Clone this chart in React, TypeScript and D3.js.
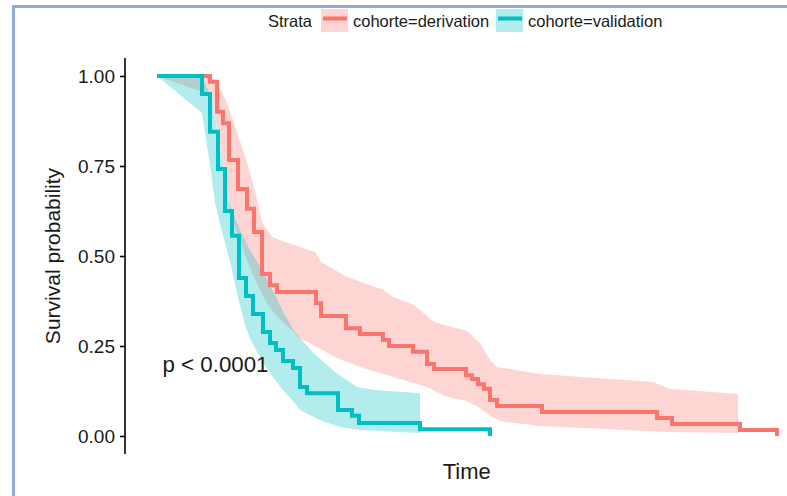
import React, { useEffect, useRef } from "react";
import * as d3 from "d3";

// ---- data ----
const strataLabels = ["cohorte=derivation", "cohorte=validation"];
const strataColors = ["#F8766D", "#00BFC4"];

// Kaplan-Meier steps, derivation cohort
const derivTime = [0, 8.28, 9.38, 10.31, 11.25, 12.66, 14.06, 15.16, 16.41, 17.66, 18.75, 24.84, 25.63, 29.53, 31.72, 35.31, 36.25, 40.0, 42.19, 43.28, 48.28, 49.22, 50.16, 51.09, 52.03, 53.13, 60.16, 78.13, 80.47, 91.09, 96.88];
const derivSurv = [1, 0.984, 0.901, 0.869, 0.767, 0.686, 0.631, 0.567, 0.45, 0.419, 0.4, 0.369, 0.333, 0.299, 0.283, 0.267, 0.25, 0.234, 0.2, 0.186, 0.169, 0.158, 0.144, 0.131, 0.1, 0.083, 0.067, 0.05, 0.033, 0.017, 0];

// Kaplan-Meier steps, validation cohort
const validTime = [0, 7.03, 8.28, 9.53, 10.63, 11.72, 12.81, 13.91, 15.0, 16.56, 17.66, 18.59, 19.69, 21.25, 22.34, 23.44, 28.28, 30.47, 31.56, 41.09, 52.03];
const validSurv = [1, 0.95, 0.845, 0.742, 0.625, 0.556, 0.439, 0.389, 0.339, 0.289, 0.258, 0.239, 0.208, 0.189, 0.136, 0.119, 0.072, 0.056, 0.036, 0.019, 0];

// confidence band, derivation
const derivUpperT = [0, 8.28, 10.16, 11.09, 12.5, 14.06, 15.47, 16.41, 17.97, 20.0, 24.69, 25.63, 29.69, 35.31, 36.88, 40.16, 43.28, 48.44, 50.47, 52.03, 53.13, 59.84, 77.5, 80.16, 90.78];
const derivUpperS = [1, 1, 0.956, 0.919, 0.844, 0.761, 0.669, 0.594, 0.553, 0.539, 0.511, 0.483, 0.442, 0.406, 0.386, 0.364, 0.317, 0.292, 0.258, 0.211, 0.192, 0.172, 0.15, 0.131, 0.117];
const derivLowerT = [0, 7.03, 8.59, 9.53, 10.47, 11.41, 12.34, 12.97, 14.53, 16.09, 17.34, 18.75, 21.09, 22.03, 25.0, 28.13, 31.72, 34.84, 37.97, 42.19, 45.31, 48.44, 50.47, 52.03, 53.59, 59.84, 79.69, 90.78];
const derivLowerS = [1, 0.956, 0.933, 0.844, 0.739, 0.625, 0.572, 0.544, 0.467, 0.406, 0.364, 0.331, 0.294, 0.275, 0.247, 0.217, 0.192, 0.175, 0.158, 0.136, 0.108, 0.097, 0.078, 0.056, 0.042, 0.028, 0.011, 0.008];

// confidence band, validation
const validUpperT = [0, 7.03, 8.59, 9.53, 10.47, 11.09, 12.97, 14.53, 16.41, 18.44, 20.0, 21.41, 24.38, 27.81, 31.25, 34.06, 41.09];
const validUpperS = [1, 1, 0.933, 0.836, 0.739, 0.656, 0.572, 0.517, 0.461, 0.392, 0.336, 0.292, 0.231, 0.178, 0.136, 0.128, 0.119];
const validLowerT = [0, 7.03, 7.5, 8.28, 9.06, 10.0, 10.94, 11.72, 12.66, 13.75, 14.53, 16.41, 17.97, 19.69, 21.25, 22.34, 25.47, 28.59, 31.72, 41.09];
const validLowerS = [1, 0.897, 0.844, 0.753, 0.647, 0.578, 0.517, 0.461, 0.383, 0.308, 0.272, 0.206, 0.167, 0.128, 0.097, 0.072, 0.044, 0.025, 0.017, 0.008];

const yTicks = [0, 0.25, 0.5, 0.75, 1];
const pValueText = "p < 0.0001";
const xTitle = "Time";
const yTitle = "Survival probability";
const legendTitle = "Strata";

const FONT = "'Liberation Sans', Arial, Helvetica, sans-serif";
const W = 787;
const H = 496;

export default function App() {
  const axisRef = useRef<SVGGElement>(null);

  const x = d3.scaleLinear().domain([0, 100]).range([157, 797]);
  const y = d3.scaleLinear().domain([0, 1]).range([436, 76]);

  const zip = (t: number[], s: number[]) => t.map((v, i) => [v, s[i]] as [number, number]);

  const stepLine = d3
    .line<[number, number]>()
    .x((d) => x(d[0]))
    .y((d) => y(d[1]))
    .curve(d3.curveStepAfter);

  const poly = d3
    .line<[number, number]>()
    .x((d) => x(d[0]))
    .y((d) => y(d[1]));

  const bandPath = (ut: number[], us: number[], lt: number[], ls: number[]) => {
    const up = zip(ut, us);
    const lo = zip(lt, ls).reverse();
    return poly(up.concat(lo)) + "Z";
  };

  const derivBand = bandPath(derivUpperT, derivUpperS, derivLowerT, derivLowerS);
  const validBand = bandPath(validUpperT, validUpperS, validLowerT, validLowerS);
  const derivPath = stepLine(zip(derivTime, derivSurv)) || "";
  const validPath = stepLine(zip(validTime, validSurv)) || "";

  useEffect(() => {
    if (!axisRef.current) return;
    const g = d3.select(axisRef.current);
    g.selectAll("*").remove();
    g.call(
      d3
        .axisLeft(y)
        .tickValues(yTicks)
        .tickSize(5)
        .tickPadding(5)
        .tickFormat(d3.format(".2f"))
    );
    g.select(".domain").remove();
    g.selectAll(".tick line").attr("stroke", "#000").attr("stroke-width", 1.6);
    g.selectAll(".tick text")
      .attr("fill", "#1a1a1a")
      .style("font-size", "19px")
      .style("font-family", FONT);
  }, []);

  const legendItems = [
    { label: strataLabels[0], color: strataColors[0], kx: 321, tx: 353 },
    { label: strataLabels[1], color: strataColors[1], kx: 496, tx: 528 },
  ];

  return (
    <svg
      width={W}
      height={H}
      style={{ position: "absolute", left: 0, top: 0, background: "#fff" }}
      fontFamily={FONT}
    >
      <rect x={0} y={0} width={W} height={H} fill="#fff" />
      {/* frame */}
      <rect x={13.5} y={6.5} width={W + 20} height={H + 20} fill="none" stroke="#8FAADC" strokeWidth={3} />

      {/* legend */}
      <text x={268} y={26.5} fontSize={16.5} fill="#1a1a1a">
        {legendTitle}
      </text>
      {legendItems.map((it) => (
        <g key={it.label}>
          <rect x={it.kx} y={9} width={27} height={23} fill={it.color} fillOpacity={0.3} />
          <line x1={it.kx + 2} x2={it.kx + 26} y1={18.5} y2={18.5} stroke={it.color} strokeWidth={4} />
          <text x={it.tx} y={26.5} fontSize={16.5} fill="#1a1a1a">
            {it.label}
          </text>
        </g>
      ))}

      {/* confidence bands */}
      <path d={derivBand} fill={strataColors[0]} fillOpacity={0.3} stroke="none" />
      <path d={validBand} fill={strataColors[1]} fillOpacity={0.3} stroke="none" />

      {/* survival curves */}
      <path d={derivPath} fill="none" stroke={strataColors[0]} strokeWidth={4} />
      <path d={validPath} fill="none" stroke={strataColors[1]} strokeWidth={4} />

      {/* y axis */}
      <line x1={125} x2={125} y1={y(1.05)} y2={y(-0.05)} stroke="#000" strokeWidth={1.6} />
      <g ref={axisRef} transform="translate(125,0)" />

      {/* axis titles */}
      <text
        transform={`translate(60,${y(0.5)}) rotate(-90)`}
        textAnchor="middle"
        fontSize={21}
        fill="#1a1a1a"
      >
        {yTitle}
      </text>
      <text x={466.7} y={478.5} textAnchor="middle" fontSize={22} fill="#1a1a1a">
        {xTitle}
      </text>

      {/* p-value */}
      <text x={162.5} y={371.7} fontSize={22.3} fill="#1a1a1a">
        {pValueText}
      </text>
    </svg>
  );
}
